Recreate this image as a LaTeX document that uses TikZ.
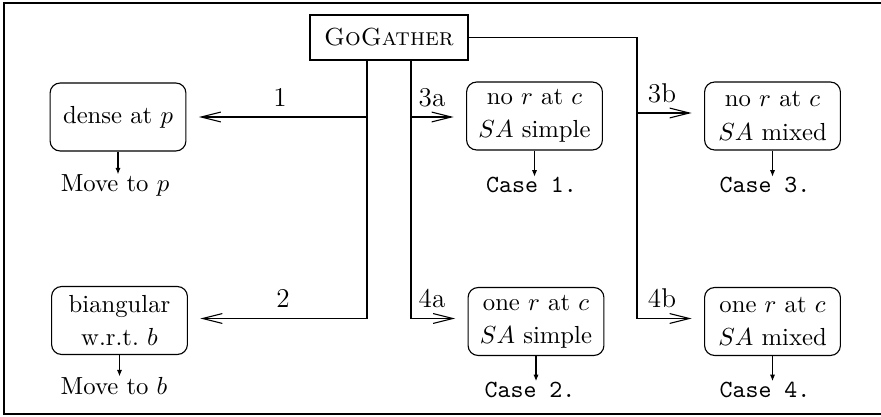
\documentclass[tikz,border=0pt]{standalone}
\usetikzlibrary{arrows.meta}
\begin{document}
\begin{tikzpicture}[x=0.405pt,y=-0.405pt,
  wire/.style={line width=0.45pt},
  flow/.style={line width=0.45pt,-{Straight Barb[length=8pt,width=4pt]},shorten >=5pt},
  cond/.style={draw,line width=0.45pt,rounded corners=4pt,minimum width=55pt,
    minimum height=27.5pt,align=center,inner sep=2pt},
  down/.style={line width=0.45pt,-{Latex[length=2.6pt,width=2.1pt]}},
  tag/.style={font=\fontsize{11}{13}\selectfont,inner sep=0pt,anchor=base},
  result/.style={inner sep=0pt,anchor=base}]
\useasboundingbox (0,0) rectangle (881,416);
% frame
\draw[line width=0.8pt] (895,3) -- (4,3) -- (4,414) -- (895,414);

% start node
\node[draw,line width=0.45pt,minimum width=64pt,minimum height=18.2pt,inner sep=2pt]
  (gg) at (389,37.5) {\textsc{GoGather}};

% condition boxes
\node[cond] (dense) at (118,117) {dense at $p$};
\node[cond] (biang) at (119.5,320.5) {biangular\\[1.4pt] w.r.t.\ $b$};
\node[cond] (c1) at (534.5,116) {no $r$ at $c$\\[1.4pt] $SA$ simple};
\node[cond] (c3) at (772.5,116) {no $r$ at $c$\\[1.4pt] $SA$ mixed};
\node[cond] (c2) at (536,321.5) {one $r$ at $c$\\[1.4pt] $SA$ simple};
\node[cond] (c4) at (772.5,321.5) {one $r$ at $c$\\[1.4pt] $SA$ mixed};

% outcomes
\node[result] (mvp) at (115,191.7) {Move to $p$};
\node[result] (mvb) at (114,394) {Move to $b$};
\node[result] (r1) at (531.5,192.5) {\texttt{Case 1.}};
\node[result] (r3) at (765,192.5) {\texttt{Case 3.}};
\node[result] (r2) at (530,397) {\texttt{Case 2.}};
\node[result] (r4) at (765,397) {\texttt{Case 4.}};

\foreach \a/\b in {dense/mvp,biang/mvb,c1/r1,c3/r3,c2/r2,c4/r4}
  \draw[down] (\a.south) -- (\a.south |- \b.north);

% branch junctions
\coordinate (j1) at (367,117);
\coordinate (j2) at (367,318.5);
\coordinate (k1) at (411,117);
\coordinate (k2) at (411,318.5);
\coordinate (m0) at (637,37.5);
\coordinate (m1) at (637,113);
\coordinate (m2) at (637,318.5);

% branches 1 and 2
\draw[wire] (gg.south -| j1) -- (j1);
\draw[flow] (j1) -- (j1 -| dense.east);
\draw[flow] (j1) -- (j2) -- (j2 -| biang.east);
% branches 3a and 4a
\draw[flow] (gg.south -| k1) -- (k1) -- (k1 -| c1.west);
\draw[flow] (k1) -- (k2) -- (k2 -| c2.west);
% branches 3b and 4b
\draw[wire] (gg.east) -- (m0) -- (m1);
\draw[flow] (m1) -- (m1 -| c3.west);
\draw[flow] (m1) -- (m2) -- (m2 -| c4.west);

% branch labels
\node[tag] (l1) at (280,106) {1};
\node[tag] (l2) at (283,307) {2};
\node[tag] (l3a) at (432,106) {3a};
\node[tag] (l4a) at (432,307) {4a};
\node[tag] (l3b) at (662,102) {3b};
\node[tag] (l4b) at (662,307) {4b};
\end{tikzpicture}
\end{document}
